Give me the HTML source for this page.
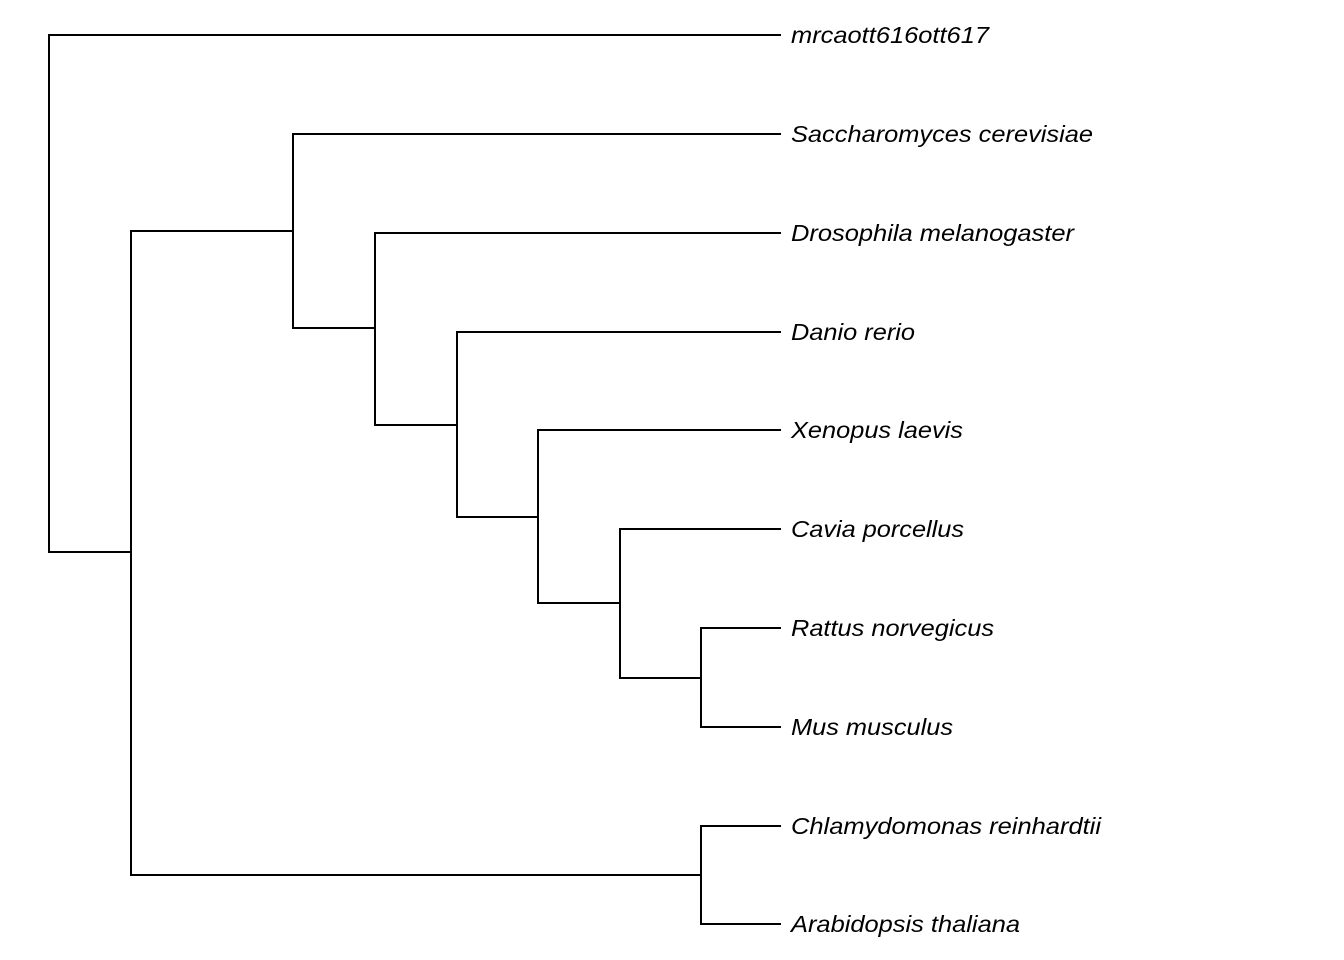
<!DOCTYPE html>
<html>
<head>
<meta charset="utf-8">
<style>
  html, body { margin: 0; padding: 0; background: #ffffff; }
  svg { display: block; }
  text { font-family: "Liberation Sans", Arial, sans-serif; font-style: italic; font-size: 23px; fill: #000; }
</style>
</head>
<body>
<svg width="1344" height="960" viewBox="0 0 1344 960" xmlns="http://www.w3.org/2000/svg">
  <rect width="1344" height="960" fill="#ffffff"/>
  <g fill="none" stroke="#000" stroke-width="2" stroke-linejoin="miter">
    <!-- root -->
    <path d="M781,35 H49 V552 H131"/>
    <!-- node 131 -->
    <path d="M293,231 H131 V875 H701"/>
    <!-- node 293 -->
    <path d="M781,134 H293 V328 H375"/>
    <!-- node 375 -->
    <path d="M781,233 H375 V425 H457"/>
    <!-- node 457 -->
    <path d="M781,332 H457 V517 H538"/>
    <!-- node 538 -->
    <path d="M781,430 H538 V603 H620"/>
    <!-- node 620 -->
    <path d="M781,529 H620 V678 H701"/>
    <!-- node 701 (Rattus/Mus) -->
    <path d="M781,628 H701 V727 H781"/>
    <!-- node 701 (Chlamy/Arabidopsis) -->
    <path d="M781,826 H701 V924 H781"/>
  </g>
  <g>
    <text x="791" y="43" textLength="198" lengthAdjust="spacingAndGlyphs">mrcaott616ott617</text>
    <text x="791" y="142" textLength="302" lengthAdjust="spacingAndGlyphs">Saccharomyces cerevisiae</text>
    <text x="791" y="241" textLength="283" lengthAdjust="spacingAndGlyphs">Drosophila melanogaster</text>
    <text x="791" y="340" textLength="124" lengthAdjust="spacingAndGlyphs">Danio rerio</text>
    <text x="791" y="438" textLength="172" lengthAdjust="spacingAndGlyphs">Xenopus laevis</text>
    <text x="791" y="537" textLength="173" lengthAdjust="spacingAndGlyphs">Cavia porcellus</text>
    <text x="791" y="636" textLength="203" lengthAdjust="spacingAndGlyphs">Rattus norvegicus</text>
    <text x="791" y="735" textLength="162" lengthAdjust="spacingAndGlyphs">Mus musculus</text>
    <text x="791" y="834" textLength="310" lengthAdjust="spacingAndGlyphs">Chlamydomonas reinhardtii</text>
    <text x="791" y="932" textLength="229" lengthAdjust="spacingAndGlyphs">Arabidopsis thaliana</text>
  </g>
</svg>
</body>
</html>
